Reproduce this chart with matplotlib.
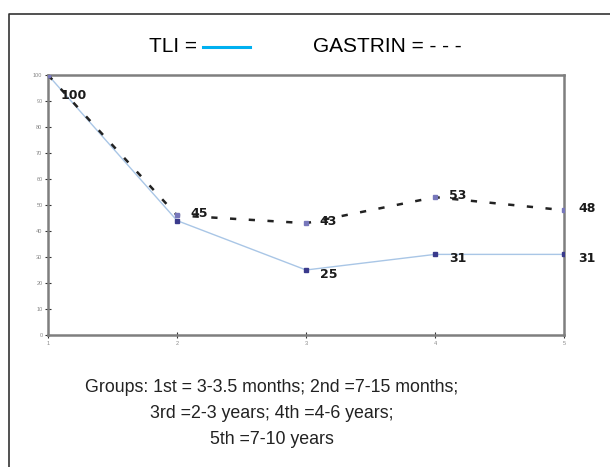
import matplotlib
matplotlib.use("Agg")
import matplotlib.pyplot as plt
from matplotlib.lines import Line2D

# data
groups = [1, 2, 3, 4, 5]
tli = [100, 44, 25, 31, 31]
gastrin = [100, 46, 43, 53, 48]
tli_labels = ["100", "", "25", "31", "31"]
gastrin_labels = ["", "45", "43", "53", "48"]
yticks = list(range(0, 101, 10))

caption = ["Groups: 1st = 3-3.5 months; 2nd =7-15 months;",
           "3rd =2-3 years; 4th =4-6 years;",
           "5th =7-10 years"]

plt.rcParams['font.family'] = ['Liberation Sans', 'DejaVu Sans']

fig = plt.figure(figsize=(6.1, 4.67), dpi=100)
ax = fig.add_axes([0.0787, 0.2827, 0.846, 0.5567])

# series
ax.plot(groups, tli, color="#a9c6e6", lw=1.0, zorder=2)
ax.plot(groups, gastrin, color="#222222", lw=1.8, ls=(0, (2.5, 5)), zorder=3)
ax.plot(groups, tli, ls="none", marker="s", ms=3, color="#3a3a8c", zorder=4)
ax.plot(groups, gastrin, ls="none", marker="s", ms=3, color="#7777bb", zorder=4)

label_style = dict(textcoords="offset points", fontsize=9, fontweight="heavy",
                   color="#1a1a1a", family="DejaVu Sans", va="center")
for i, (x, y, t) in enumerate(zip(groups, tli, tli_labels)):
    if t:
        off = (9, -15) if i == 0 else (10, -3)
        ax.annotate(t, (x, y), xytext=off, **label_style)
for x, y, t in zip(groups, gastrin, gastrin_labels):
    if t:
        ax.annotate(t, (x, y), xytext=(10, 1), **label_style)

ax.set_xlim(1, 5)
ax.set_ylim(0, 100)
ax.set_xticks(groups)
ax.set_yticks(yticks)
ax.tick_params(direction="inout", length=4, width=0.8, color="#333333",
               labelsize=4, labelcolor="#888888", pad=2)
for side in ["left", "bottom", "top", "right"]:
    ax.spines[side].set_color("#7f7f7f")
    ax.spines[side].set_linewidth(1.8)

# legend text across the top
fig.text(0.244, 0.9, "TLI =", fontsize=15, va="center", ha="left")
fig.add_artist(Line2D([0.333, 0.41], [0.9, 0.9], color="#00b0f0", lw=2.2))
fig.text(0.513, 0.9, "GASTRIN = - - -", fontsize=15, va="center", ha="left")

# caption under the plot
for i, line in enumerate(caption):
    fig.text(0.446, 0.171 - i * 0.056, line, fontsize=12.8, ha="center", va="center",
             color="#222222")

# outer frame (only left and top edges visible)
fig.add_artist(Line2D([0.0148, 0.0148, 1.0], [0.0, 0.97, 0.97], color="#333333", lw=1.2))

fig.savefig("out.png", dpi=100)
